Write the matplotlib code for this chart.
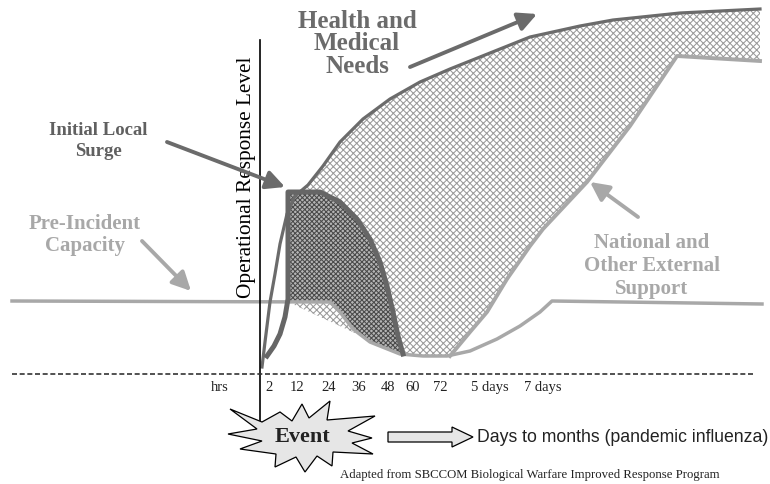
import matplotlib
matplotlib.use("Agg")
import matplotlib.pyplot as plt
from matplotlib.patches import Polygon, FancyArrow

# ---- data (pixel-space diagram, y grows downward) ----
health_x = [262, 265, 270, 275, 280, 287, 295, 308, 323, 340, 363, 390, 420, 450, 475, 500, 530, 580, 613, 680, 760]
health_y = [368, 343, 303, 275, 245, 215, 197, 186, 167, 143, 120, 100, 83, 70, 60, 50, 38, 27, 21, 14, 10]

surge_x = [267, 274, 280, 285, 288, 288, 288, 320, 340, 357, 370, 380, 387, 393, 398, 403]
surge_y = [357, 347, 335, 318, 300, 260, 193, 193, 203, 220, 240, 263, 287, 313, 337, 355]

pre_x = [12, 330, 340, 353, 370, 400, 423, 447, 470, 497, 520, 540, 552, 762]
pre_y = [302, 303, 313, 330, 343, 355, 357, 357, 352, 340, 327, 313, 302, 305]

national_x = [450, 470, 487, 507, 530, 543, 587, 630, 677, 760]
national_y = [357, 333, 313, 280, 247, 230, 183, 127, 57, 62]

tick_x = [220, 269, 297, 329, 359, 388, 413, 440, 490, 543]
tick_labels = ["hrs", "2", "12", "24", "36", "48", "60", "72", "5 days", "7 days"]

star_x = [230, 262, 280, 292, 302, 309, 330, 327, 375, 348, 372, 352, 373, 333,
          332, 317, 305, 296, 275, 276, 240, 262, 228, 257]
star_y = [410, 423, 413, 422, 405, 419, 402, 421, 417, 432, 439, 444, 455, 453,
          467, 457, 473, 458, 468, 455, 450, 442, 435, 430]

DARK = "#6b6b6b"
LIGHT = "#a8a8a8"
SERIF = "Liberation Serif"

plt.rcParams["hatch.linewidth"] = 0.75

fig = plt.figure(figsize=(7.7, 4.85), dpi=100)
ax = fig.add_axes([0, 0, 1, 1])
ax.set_xlim(0, 770)
ax.set_ylim(485, 0)
ax.axis("off")

# big hatched region: health curve on top, national support on right, pre-incident at bottom
big_x = health_x[6:] + [760] + national_x[::-1] + [423, 400, 288]
big_y = health_y[6:] + [62] + national_y[::-1] + [357, 355, 303]
ax.add_patch(Polygon(list(zip(big_x, big_y)), closed=True, facecolor="white",
                     edgecolor="#9a9a9a", hatch="xxxxx", linewidth=0, zorder=1))

# initial local surge region
sx = surge_x[6:] + [400, 370, 353, 340, 330, 288]
sy = surge_y[6:] + [355, 343, 330, 313, 303, 303]
ax.add_patch(Polygon(list(zip(sx, sy)), closed=True, facecolor="#b5b5b5",
                     edgecolor="#4a4a4a", hatch="xxxxxxx", linewidth=0, zorder=2))

# curves
ax.plot(pre_x, pre_y, color=LIGHT, lw=2.5, zorder=3, solid_joinstyle="round")
ax.plot(national_x, national_y, color=LIGHT, lw=2.8, zorder=3, solid_joinstyle="round")
ax.plot(health_x, health_y, color=DARK, lw=2.3, zorder=4, solid_joinstyle="round")
ax.plot(surge_x, surge_y, color="#666666", lw=3.6, zorder=5, solid_joinstyle="round")

# axes lines
ax.plot([260, 260], [41, 427], color="black", lw=1.2, zorder=6)
ax.plot([12, 755], [375, 375], color="#333333", lw=1.2, ls=(0, (3, 1.6)), zorder=6)

ax.text(247, 177, "Operational Response Level", rotation=90, ha="center", va="center",
        family=SERIF, fontsize=15.3, color="black", zorder=7)

for x, lab in zip(tick_x, tick_labels):
    ax.text(x, 388, lab, ha="center", va="center", family=SERIF, fontsize=10.5, color="#222222")

# labels
ax.text(357, 44, "Health and\nMedical\nNeeds", ha="center", va="center", family=SERIF,
        fontweight="bold", fontsize=18, color=DARK, linespacing=0.98)
ax.text(98, 141, "Initial Local\nSurge", ha="center", va="center", family=SERIF,
        fontweight="bold", fontsize=13.5, color="#606060", linespacing=1.25)
ax.text(85, 235, "Pre-Incident\nCapacity", ha="center", va="center", family=SERIF,
        fontweight="bold", fontsize=15, color=LIGHT, linespacing=1.15)
ax.text(652, 266, "National and\nOther External\nSupport", ha="center", va="center", family=SERIF,
        fontweight="bold", fontsize=15, color=LIGHT, linespacing=1.2)

# pointer arrows
def pointer(tail, tip, color):
    ax.annotate("", xy=tip, xytext=tail,
                arrowprops=dict(arrowstyle="-|>,head_length=0.7,head_width=0.35",
                                color=color, lw=2.8, mutation_scale=16, shrinkA=0, shrinkB=0),
                zorder=8)

pointer((410, 68), (537, 15), DARK)
pointer((167, 143), (285, 188), DARK)
pointer((142, 242), (191, 292), LIGHT)
pointer((638, 218), (590, 183), LIGHT)

# event star
ax.add_patch(Polygon(list(zip(star_x, star_y)), closed=True, facecolor="#e6e6e6",
                     edgecolor="black", linewidth=0.9, zorder=9))
ax.text(302, 437, "Event", ha="center", va="center", family=SERIF, fontweight="bold",
        fontsize=16, color="#222222", zorder=10)

# block arrow
ax.add_patch(FancyArrow(388, 438, 85, 0, width=10, head_width=20, head_length=21,
                        length_includes_head=True, facecolor="#e6e6e6", edgecolor="black",
                        linewidth=0.9, zorder=9))
ax.text(477, 438, "Days to months (pandemic influenza)", ha="left", va="center",
        family="Liberation Sans", fontsize=12.7, color="#222222")

ax.text(340, 475, "Adapted from SBCCOM Biological Warfare Improved Response Program",
        ha="left", va="center", family=SERIF, fontsize=9.2, color="#222222")

fig.savefig("out.png", dpi=100)
